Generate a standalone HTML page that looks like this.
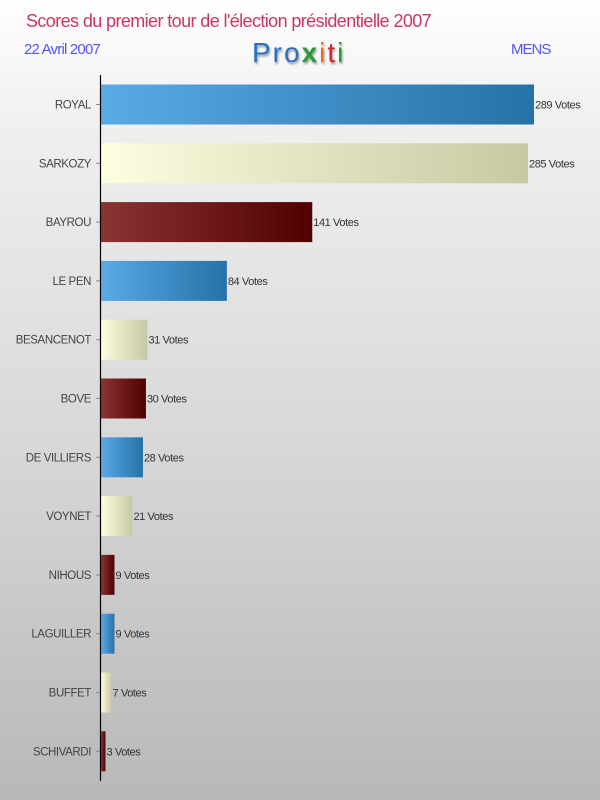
<!DOCTYPE html>
<html><head><meta charset="utf-8"><style>
html,body{margin:0;padding:0}
body{width:600px;height:800px;overflow:hidden;background:linear-gradient(#ffffff 0%,#f0f0f0 15%,#d8d8d8 55%,#b8b8b8 100%);font-family:"Liberation Sans",sans-serif;position:relative}
.t{position:absolute;white-space:nowrap}
</style></head><body>
<div class="t" style="left:26px;top:11px;font-size:18px;color:#c8385e;letter-spacing:-0.6px">Scores du premier tour de l'élection présidentielle 2007</div>
<div class="t" style="left:24px;top:41px;font-size:15px;color:#5555ee;letter-spacing:-0.8px">22 Avril 2007</div>
<div class="t" style="left:252px;top:37px;font-size:28px;letter-spacing:2px;text-shadow:1px 2px 2px #999"><span style="color:#2a6fc0">Pro</span><span style="color:#2a9a3a;font-weight:bold">x</span><span style="color:#e8701a">i</span><span style="color:#d02828">t</span><span style="color:#2a9a3a">i</span></div>
<div class="t" style="left:511px;top:41px;font-size:15px;color:#5555ee;letter-spacing:-1px">MENS</div>
<svg id="chart" width="600" height="800" style="position:absolute;left:0;top:0">
<defs>
<linearGradient id="gb" x1="0" x2="1"><stop offset="0" stop-color="#5aaae6"/><stop offset="1" stop-color="#2672a8"/></linearGradient>
<linearGradient id="gy" x1="0" x2="1"><stop offset="0" stop-color="#fdfde0"/><stop offset="1" stop-color="#c8c8a4"/></linearGradient>
<linearGradient id="gr" x1="0" x2="1"><stop offset="0" stop-color="#8a3434"/><stop offset="1" stop-color="#520000"/></linearGradient>
</defs>
</svg>
<script>
const candidates=["ROYAL","SARKOZY","BAYROU","LE PEN","BESANCENOT","BOVE","DE VILLIERS","VOYNET","NIHOUS","LAGUILLER","BUFFET","SCHIVARDI"];
const votes=[289,285,141,84,31,30,28,21,9,9,7,3];
const fills=["url(#gb)","url(#gy)","url(#gr)"];
const svg=document.getElementById('chart');
const NS="http://www.w3.org/2000/svg";
const x0=100,maxW=433,maxV=Math.max(...votes);
const xs=v=>v/maxV*maxW;
const y0=84.5,step=58.8,bh=40;
const ys=i=>y0+i*step;
function mk(t,a){const e=document.createElementNS(NS,t);for(const k in a)e.setAttribute(k,a[k]);svg.appendChild(e);return e;}
candidates.forEach((c,i)=>{
  const y=ys(i),w=Math.max(xs(votes[i]),3);
  const r=mk('rect',{x:x0+1,y:y,width:w,height:bh,fill:fills[i%3]});
  
  
  const tk=mk('line',{x1:96,x2:100,y1:y+bh/2,y2:y+bh/2,stroke:'#888'});
  
  
  const l=mk('text',{x:91,y:y+bh/2+4,'text-anchor':'end','font-size':11.5,fill:'#444','font-family':'Liberation Sans, sans-serif','letter-spacing':'-0.4'});
  l.textContent=c;
  
  
  const v=mk('text',{x:x0+w+2,y:y+bh/2+4,'font-size':11,fill:'#333','font-family':'Liberation Sans, sans-serif','letter-spacing':'-0.4'});
  v.textContent=votes[i]+' Votes';
  
  
});
const ax=mk('line',{x1:100.5,x2:100.5,y1:75,y2:781,stroke:'#000','stroke-width':1.2});


</script>
</body></html>
